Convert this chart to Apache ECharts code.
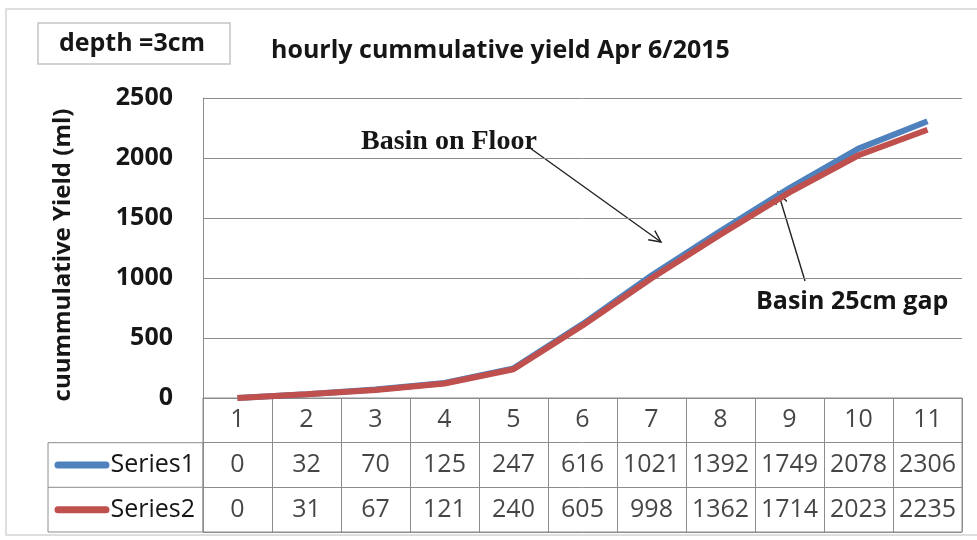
<!DOCTYPE html>
<html>
<head>
<meta charset="utf-8">
<script src="https://cdn.jsdelivr.net/npm/echarts@6/dist/echarts.min.js"></script>
<style>
  html, body { margin: 0; padding: 0; background: #fff; }
  #main { width: 977px; height: 540px; }
</style>
</head>
<body>
<div id="main"></div>
<script>
var hours = ['1', '2', '3', '4', '5', '6', '7', '8', '9', '10', '11'];
var series1 = [0, 32, 70, 125, 247, 616, 1021, 1392, 1749, 2078, 2306];
var series2 = [0, 31, 67, 121, 240, 605, 998, 1362, 1714, 2023, 2235];
var seriesNames = ['Series1', 'Series2'];
var seriesColors = ['#4f81bd', '#c0504d'];
var yTicks = { min: 0, max: 2500, interval: 500 };

var chart = echarts.init(document.getElementById('main'));
var sans = '"Open Sans", Lato, sans-serif';
var ink = '#161616';

// table cells (header row + two data rows)
var cells = [];
hours.forEach(function (h, i) {
    cells.push([h, 'hdr', h]);
    cells.push([h, seriesNames[0], series1[i]]);
    cells.push([h, seriesNames[1], series2[i]]);
});

// simple open arrow for the callouts
function arrow(x1, y1, x2, y2) {
    var a = Math.atan2(y2 - y1, x2 - x1), L = 13, s = 0.45;
    return [
        { type: 'line', shape: { x1: x1, y1: y1, x2: x2, y2: y2 }, style: { stroke: '#222', lineWidth: 1.4 } },
        { type: 'polyline', shape: { points: [
            [x2 - L * Math.cos(a - s), y2 - L * Math.sin(a - s)],
            [x2, y2],
            [x2 - L * Math.cos(a + s), y2 - L * Math.sin(a + s)]
        ] }, style: { stroke: '#222', lineWidth: 1.4, fill: null } }
    ];
}

var option = {
    animation: false,
    title: {
        text: 'hourly cummulative yield Apr 6/2015',
        left: 266, top: 33,
        textStyle: { fontFamily: sans, fontWeight: 'bold', fontSize: 25, color: ink }
    },
    grid: [
        { left: 203, right: 15, top: 98, bottom: 142 },
        { left: 203, right: 15, top: 398, bottom: 8, show: true, borderColor: '#8c8c8c', borderWidth: 1 }
    ],
    xAxis: [
        {
            type: 'category', data: hours, gridIndex: 0, boundaryGap: true,
            axisLine: { lineStyle: { color: '#8c8c8c' } },
            axisTick: { show: false }, axisLabel: { show: false }
        },
        {
            type: 'category', data: hours, gridIndex: 1, boundaryGap: true,
            axisLine: { show: false }, axisTick: { show: false }, axisLabel: { show: false },
            splitLine: { show: true, interval: 0, lineStyle: { color: '#8c8c8c' } }
        }
    ],
    yAxis: [
        {
            type: 'value', gridIndex: 0,
            min: yTicks.min, max: yTicks.max, interval: yTicks.interval,
            name: 'cuummulative Yield (ml)', nameLocation: 'middle', nameGap: 128,
            nameTextStyle: { fontFamily: sans, fontWeight: 'bold', fontSize: 24, color: ink, padding: [0, 14, 0, 0] },
            axisLine: { show: true, lineStyle: { color: '#8c8c8c' } },
            axisTick: { show: false },
            axisLabel: {
                margin: 30, fontFamily: sans, fontWeight: 'bold', fontSize: 25, color: ink,
                formatter: function (v) { return String(v); }
            },
            splitLine: { lineStyle: { color: '#8c8c8c', width: 1 } }
        },
        {
            type: 'category', gridIndex: 1, inverse: true,
            data: ['hdr', seriesNames[0], seriesNames[1]],
            axisLine: { show: false }, axisTick: { show: false },
            splitLine: { show: true, interval: 0, lineStyle: { color: '#8c8c8c' } },
            axisLabel: {
                margin: 8, fontFamily: sans, fontSize: 25, color: ink,
                formatter: function (v) {
                    if (v === seriesNames[0]) return '{k1|}{t|' + v + '}';
                    if (v === seriesNames[1]) return '{k2|}{t|' + v + '}';
                    return '';
                },
                rich: {
                    k1: { width: 55, height: 7, backgroundColor: seriesColors[0], borderRadius: 3.5 },
                    k2: { width: 55, height: 7, backgroundColor: seriesColors[1], borderRadius: 3.5 },
                    t: { fontFamily: sans, fontSize: 25, color: ink, padding: [0, 0, 0, 1] }
                }
            }
        }
    ],
    series: [
        {
            name: seriesNames[0], type: 'line', data: series1,
            xAxisIndex: 0, yAxisIndex: 0, symbol: 'none',
            lineStyle: { color: seriesColors[0], width: 6 }, itemStyle: { color: seriesColors[0] }
        },
        {
            name: seriesNames[1], type: 'line', data: series2,
            xAxisIndex: 0, yAxisIndex: 0, symbol: 'none',
            lineStyle: { color: seriesColors[1], width: 6 }, itemStyle: { color: seriesColors[1] }
        },
        {
            type: 'scatter', xAxisIndex: 1, yAxisIndex: 1, silent: true,
            data: cells, symbolSize: 2, itemStyle: { color: 'rgba(0,0,0,0)' },
            label: {
                show: true, position: 'inside',
                fontFamily: sans, fontSize: 25, color: ink,
                formatter: function (p) { return String(p.value[2]); }
            }
        }
    ],
    graphic: [
        // outer chart border
        { type: 'rect', shape: { x: 6, y: 9, width: 985, height: 526 }, style: { stroke: '#d4d4d4', fill: null, lineWidth: 1.5 }, z: -1 },
        // depth text box
        { type: 'rect', shape: { x: 38, y: 23, width: 192, height: 41 }, style: { stroke: '#c4c4c4', fill: '#fff', lineWidth: 1.5 } },
        { type: 'text', x: 132, y: 44, style: { text: 'depth =3cm', font: 'bold 25px ' + sans, fill: ink, align: 'center', verticalAlign: 'middle' } },
        // legend key cell left of the table
        { type: 'rect', shape: { x: 48, y: 442.7, width: 155, height: 89.3 }, style: { stroke: '#8c8c8c', fill: null, lineWidth: 1 } },
        { type: 'line', shape: { x1: 48, y1: 487.3, x2: 203, y2: 487.3 }, style: { stroke: '#8c8c8c', lineWidth: 1 } },
        // callouts
        { type: 'text', x: 361, y: 142, style: { text: 'Basin on Floor', font: 'bold 28px "Liberation Serif", serif', fill: ink, verticalAlign: 'middle' } },
        { type: 'text', x: 756, y: 302, style: { text: 'Basin 25cm gap', font: 'bold 25px ' + sans, fill: ink, verticalAlign: 'middle' } }
    ].concat(arrow(530, 148, 661, 242)).concat(arrow(805, 281, 778, 192))
};

chart.setOption(option);
</script>
</body>
</html>
